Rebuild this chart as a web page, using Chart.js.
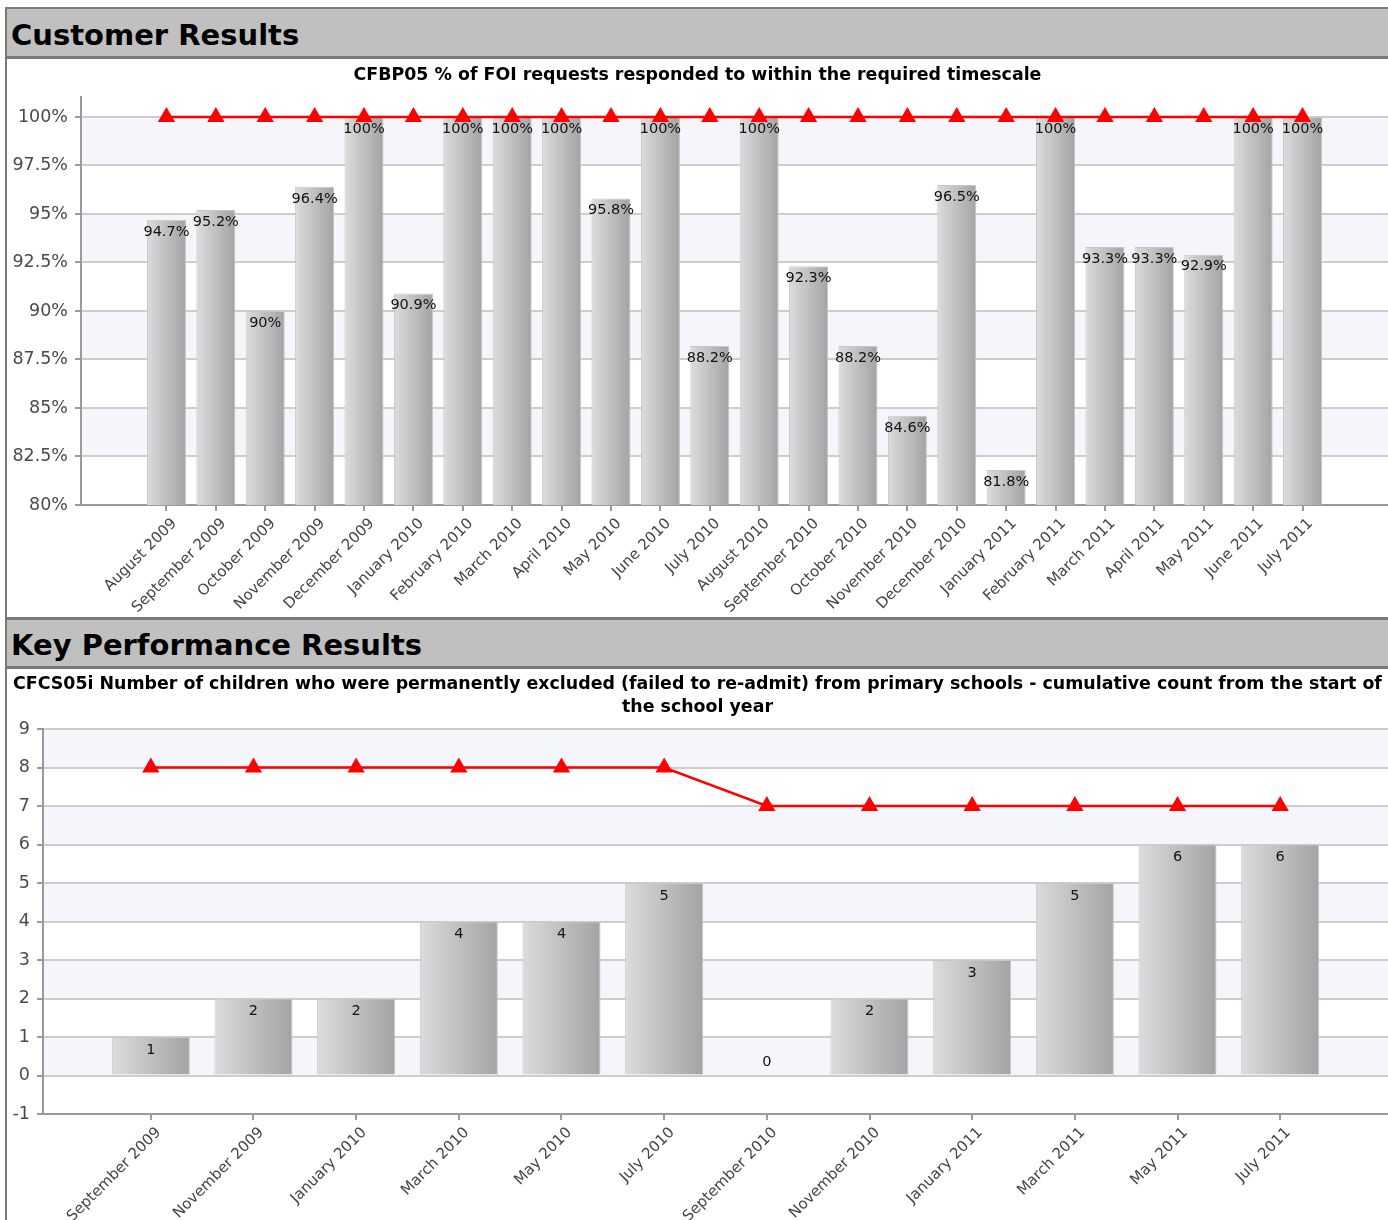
<!DOCTYPE html>
<html>
<head>
<meta charset="utf-8">
<script src="https://cdn.jsdelivr.net/npm/chart.js@4.4.1/dist/chart.umd.min.js"></script>
<style>
html,body{margin:0;padding:0;background:#fff;}
body{width:1388px;height:1220px;position:relative;overflow:hidden;font-family:"DejaVu Sans",sans-serif;}
.line{position:absolute;background:#7a7a72;}
.hdr{position:absolute;left:7px;width:1381px;background:#c0c0c0;font-weight:bold;font-size:29px;font-family:"DejaVu Sans",sans-serif;color:#000;box-sizing:border-box;padding-left:4px;white-space:nowrap;overflow:visible;}
.cv{position:absolute;left:7px;width:1381px;background:#fff;}
canvas{display:block;}
</style>
</head>
<body>
<div class="line" style="left:5px;top:7px;width:1383px;height:2px;"></div>
<div class="line" style="left:5px;top:7px;width:2px;height:1213px;"></div>
<div class="hdr" style="top:9px;height:47px;line-height:52px;">Customer Results</div>
<div class="line" style="left:7px;top:56px;width:1381px;height:3px;"></div>
<div class="cv" style="top:59px;height:558px;"><canvas id="c1" width="1381" height="558" style="width:1381px;height:558px;"></canvas></div>
<div class="line" style="left:7px;top:617px;width:1381px;height:3px;"></div>
<div class="hdr" style="top:620px;height:46px;line-height:50px;">Key Performance Results</div>
<div class="line" style="left:7px;top:666px;width:1381px;height:3px;"></div>
<div class="cv" style="top:669px;height:551px;"><canvas id="c2" width="1381" height="551" style="width:1381px;height:551px;"></canvas></div>

<script>
// ---------- Chart 1 data ----------
const title1 = "CFBP05 % of FOI requests responded to within the required timescale";
const months1 = ["August 2009","September 2009","October 2009","November 2009","December 2009","January 2010","February 2010","March 2010","April 2010","May 2010","June 2010","July 2010","August 2010","September 2010","October 2010","November 2010","December 2010","January 2011","February 2011","March 2011","April 2011","May 2011","June 2011","July 2011"];
const actual1 = [94.7,95.2,90,96.4,100,90.9,100,100,100,95.8,100,88.2,100,92.3,88.2,84.6,96.5,81.8,100,93.3,93.3,92.9,100,100];
const target1 = [100,100,100,100,100,100,100,100,100,100,100,100,100,100,100,100,100,100,100,100,100,100,100,100];
const yTicks1 = [80,82.5,85,87.5,90,92.5,95,97.5,100];

// ---------- Chart 2 data ----------
const title2 = ["CFCS05i Number of children who were permanently excluded (failed to re-admit) from primary schools - cumulative count from the start of","the school year"];
const months2 = ["September 2009","November 2009","January 2010","March 2010","May 2010","July 2010","September 2010","November 2010","January 2011","March 2011","May 2011","July 2011"];
const actual2 = [1,2,2,4,4,5,0,2,3,5,6,6];
const target2 = [8,8,8,8,8,8,7,7,7,7,7,7];
const yTicks2 = [-1,0,1,2,3,4,5,6,7,8,9];

Chart.defaults.font.family = "'DejaVu Sans', sans-serif";
Chart.defaults.animation = false;

const bandPlugin = {
  id: 'bands',
  beforeDraw(chart) {
    const {ctx, chartArea: a, scales: {y}} = chart;
    const t = y.ticks.map(k => k.value).sort((p, q) => q - p);
    ctx.save();
    ctx.fillStyle = '#f5f6fc';
    for (let k = 0; k < t.length - 1; k += 2) {
      const y1 = y.getPixelForValue(t[k]);
      const y2 = y.getPixelForValue(t[k + 1]);
      ctx.fillRect(a.left, y1, a.right - a.left, y2 - y1);
    }
    ctx.restore();
  }
};

const valueLabels = {
  id: 'valueLabels',
  afterDatasetDraw(chart, args, opts) {
    if (args.meta.type !== 'bar') return;
    const ctx = chart.ctx;
    ctx.save();
    ctx.font = opts.font;
    ctx.fillStyle = '#111';
    ctx.textAlign = 'center';
    ctx.textBaseline = 'middle';
    const ds = chart.data.datasets[args.index];
    args.meta.data.forEach((el, i) => {
      const v = ds.data[i].y;
      const h = el.base - el.y;
      const yy = h < 20 ? el.y - opts.offset : el.y + opts.offset;
      ctx.fillText(String(v) + opts.suffix, el.x, yy);
    });
    ctx.restore();
  }
};

function barGradient(barPct) {
  return (c) => {
    const chart = c.chart;
    const xs = chart.scales && chart.scales.x;
    if (!xs || c.type !== 'data' || !chart.chartArea) return '#c0c0c0';
    const cx = xs.getPixelForValue(c.dataIndex);
    const w = (xs.getPixelForValue(1) - xs.getPixelForValue(0)) * barPct;
    const g = chart.ctx.createLinearGradient(cx - w / 2, 0, cx + w / 2, 0);
    g.addColorStop(0, '#dcdcdc');
    g.addColorStop(1, '#a3a3a3');
    return g;
  };
}

function makeChart(id, o) {
  return new Chart(document.getElementById(id), {
    data: {
      datasets: [
        {
          type: 'line', order: 0,
          data: o.target.map((v, i) => ({x: i, y: v})),
          borderColor: '#ff0000', borderWidth: 2.5,
          pointStyle: 'triangle', pointRadius: 10, pointHoverRadius: 10,
          pointBackgroundColor: '#ff0000', pointBorderWidth: 0,
          tension: 0, fill: false
        },
        {
          type: 'bar', order: 1,
          data: o.actual.map((v, i) => ({x: i, y: v})),
          backgroundColor: barGradient(o.barPct),
          borderColor: '#c6c6c6', borderWidth: 1,
          barPercentage: o.barPct, categoryPercentage: 1
        }
      ]
    },
    options: {
      responsive: false,
      events: [],
      layout: {padding: 0, autoPadding: false},
      plugins: {
        legend: {display: false},
        tooltip: {enabled: false},
        title: {
          display: true, text: o.title, color: '#000',
          font: {size: 17.4, weight: 'bold', lineHeight: o.titleLH},
          padding: o.titlePad
        },
        valueLabels: {font: "14.5px 'DejaVu Sans'", offset: o.labelOffset, suffix: o.suffix}
      },
      scales: {
        x: {
          type: 'linear', min: o.xmin, max: o.xmax, offset: false,
          afterBuildTicks: s => { s.ticks = o.labels.map((_, i) => ({value: i})); },
          afterFit: s => { s.height = o.xHeight; },
          ticks: {
            autoSkip: false, minRotation: 45, maxRotation: 45,
            callback: v => o.labels[v],
            font: {size: 15}, color: '#444', padding: 4, labelOffset: 8
          },
          grid: {offset: false, drawOnChartArea: false, drawTicks: true, tickLength: 6, color: '#9a9a9a', lineWidth: 2},
          border: {color: '#9a9a9a', width: 2}
        },
        y: {
          type: 'linear', min: o.ymin, max: o.ymax,
          afterBuildTicks: s => { s.ticks = o.yTicks.map(v => ({value: v})); },
          afterFit: s => { s.width = o.yWidth; },
          ticks: {
            callback: v => String(v) + o.suffix,
            font: {size: 17.5}, color: '#4a4a4a', padding: 7
          },
          grid: {color: '#cdcdcd', lineWidth: 2, tickLength: 6, tickColor: '#9a9a9a'},
          border: {color: '#9a9a9a', width: 2}
        }
      }
    },
    plugins: [bandPlugin, valueLabels]
  });
}

makeChart('c1', {
  title: title1, labels: months1, actual: actual1, target: target1, yTicks: yTicks1,
  barPct: 0.79, suffix: '%', labelOffset: 12,
  xmin: -1.73, xmax: 24.73, ymin: 80, ymax: 101.03,
  xHeight: 112, yWidth: 74, titleLH: '18px', titlePad: {top: 7, bottom: 13}
});

makeChart('c2', {
  title: title2, labels: months2, actual: actual2, target: target2, yTicks: yTicks2,
  barPct: 0.76, suffix: '', labelOffset: 13,
  xmin: -1.05, xmax: 12.05, ymin: -1, ymax: 9,
  xHeight: 106, yWidth: 36, titleLH: '23px', titlePad: {top: 4, bottom: 10}
});
</script>
</body>
</html>
